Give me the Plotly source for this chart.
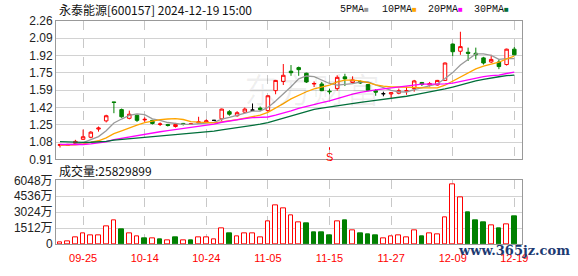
import plotly.graph_objects as go
import pandas as pd
import numpy as np

# ---------------- data ----------------
dates = ["09-20", "09-23", "09-24", "09-25", "09-26", "09-27", "09-30", "10-08", "10-09", "10-10",
         "10-11", "10-14", "10-15", "10-16", "10-17", "10-18", "10-21", "10-22", "10-23", "10-24",
         "10-25", "10-28", "10-29", "10-30", "10-31", "11-01", "11-04", "11-05", "11-06", "11-07",
         "11-08", "11-11", "11-12", "11-13", "11-14", "11-15", "11-18", "11-19", "11-20", "11-21",
         "11-22", "11-25", "11-26", "11-27", "11-28", "11-29", "12-02", "12-03", "12-04", "12-05",
         "12-06", "12-09", "12-10", "12-11", "12-12", "12-13", "12-16", "12-17", "12-18", "12-19"]

opens = [1.045, 1.045, 1.065, 1.105, 1.125, 1.205, 1.285, 1.470, 1.395, 1.310,
         1.340, 1.295, 1.290, 1.250, 1.250, 1.230, 1.260, 1.250, 1.265, 1.275,
         1.290, 1.305, 1.375, 1.335, 1.370, 1.390, 1.410, 1.385, 1.580, 1.670,
         1.770, 1.805, 1.750, 1.645, 1.645, 1.575, 1.600, 1.715, 1.660, 1.670,
         1.640, 1.580, 1.550, 1.548, 1.555, 1.575, 1.600, 1.660, 1.635, 1.635,
         1.680, 2.035, 1.965, 1.955, 1.945, 1.900, 1.860, 1.860, 1.835, 1.985]
highs = [1.060, 1.060, 1.100, 1.200, 1.185, 1.230, 1.345, 1.470, 1.405, 1.385,
         1.345, 1.320, 1.295, 1.270, 1.255, 1.265, 1.265, 1.265, 1.325, 1.300,
         1.295, 1.405, 1.390, 1.380, 1.415, 1.455, 1.425, 1.535, 1.685, 1.840,
         1.830, 1.815, 1.755, 1.670, 1.665, 1.600, 1.730, 1.745, 1.720, 1.680,
         1.645, 1.595, 1.570, 1.565, 1.600, 1.620, 1.685, 1.665, 1.665, 1.685,
         1.855, 2.040, 2.155, 2.000, 2.000, 1.910, 1.930, 1.885, 1.990, 2.005]
lows = [1.025, 1.040, 1.060, 1.100, 1.115, 1.180, 1.270, 1.360, 1.315, 1.300,
        1.275, 1.275, 1.250, 1.235, 1.230, 1.220, 1.240, 1.245, 1.260, 1.270,
        1.285, 1.285, 1.335, 1.325, 1.360, 1.390, 1.380, 1.375, 1.545, 1.635,
        1.725, 1.725, 1.655, 1.615, 1.575, 1.545, 1.580, 1.625, 1.650, 1.645,
        1.575, 1.530, 1.525, 1.510, 1.545, 1.540, 1.570, 1.625, 1.620, 1.630,
        1.675, 1.915, 1.930, 1.870, 1.885, 1.835, 1.850, 1.790, 1.825, 1.925]
closes = [1.055, 1.055, 1.085, 1.130, 1.175, 1.215, 1.335, 1.465, 1.325, 1.350,
          1.290, 1.300, 1.260, 1.255, 1.240, 1.250, 1.250, 1.257, 1.275, 1.285,
          1.290, 1.400, 1.350, 1.365, 1.400, 1.390, 1.395, 1.530, 1.680, 1.730,
          1.755, 1.785, 1.665, 1.650, 1.580, 1.570, 1.710, 1.695, 1.685, 1.655,
          1.585, 1.565, 1.550, 1.560, 1.580, 1.580, 1.675, 1.640, 1.650, 1.680,
          1.850, 1.960, 2.010, 1.945, 1.930, 1.850, 1.885, 1.815, 1.985, 1.930]
# estimated closes of the 29 sessions before the window (needed for the moving averages)
prior_closes = [1.17, 1.16, 1.16, 1.15, 1.14, 1.14, 1.13, 1.12, 1.12, 1.11,
                1.10, 1.09, 1.08, 1.07, 1.06, 1.06, 1.05, 1.05, 1.04, 1.04,
                1.04, 1.04, 1.03, 1.04, 1.05, 1.05, 1.05, 1.05, 1.045]

# volume in 万 shares
volumes = [181, 242, 635, 998, 847, 847, 1724, 2268, 1361, 998,
           756, 544, 575, 454, 393, 635, 393, 363, 635, 635,
           454, 1452, 1028, 726, 998, 998, 635, 2117, 3629, 3357,
           2722, 2087, 1935, 1119, 1119, 847, 2177, 2208, 1270, 1028,
           937, 847, 544, 726, 816, 665, 1270, 756, 998, 937,
           2540, 5685, 4445, 3024, 2208, 2026, 1754, 1482, 1845, 2583]
vol_dir = list("uuuuuuuuduududududuuuuduuuuuuuuuddddududdduuuuuduuuuudddudud")

tick_dates = ["09-25", "10-14", "10-24", "11-05", "11-15", "11-27", "12-09", "12-19"]
price_ticktext = ["0.91", "1.08", "1.25", "1.42", "1.59", "1.75", "1.92", "2.09", "2.26"]
vol_tickvals = [0, 1512, 3024, 4536, 6048]
vol_ticktext = ["0", "1512万", "3024万", "4536万", "6048万"]
ma_periods = [5, 10, 20, 30]
ma_names = ["5PMA", "10PMA", "20PMA", "30PMA"]

# ---------------- styles ----------------
RED = "#ff0000"
GREEN = "#008000"
MA_COLORS = ["#9a9a9a", "#ffa500", "#ff00ff", "#006f3a"]
FRAME = "#999999"
GRID = "#d2d2d2"

n = len(dates)
all_closes = pd.Series(prior_closes + closes)
mas = [all_closes.rolling(p).mean().iloc[-n:].tolist() for p in ma_periods]

fig = go.Figure()

# candles: up (hollow red), down (solid green), doji (black)
def subset(idx):
    return dict(x=[dates[i] for i in idx], open=[opens[i] for i in idx], high=[highs[i] for i in idx],
                low=[lows[i] for i in idx], close=[closes[i] for i in idx])

up_idx = [i for i in range(n) if closes[i] > opens[i]]
dn_idx = [i for i in range(n) if closes[i] < opens[i]]
dj_idx = [i for i in range(n) if closes[i] == opens[i]]

for idx, lc, fc in [(up_idx, RED, "white"), (dn_idx, GREEN, GREEN), (dj_idx, "#000000", "#000000")]:
    fig.add_trace(go.Candlestick(
        **subset(idx), xaxis="x", yaxis="y", showlegend=False, hoverinfo="skip",
        increasing=dict(line=dict(color=lc, width=1), fillcolor=fc),
        decreasing=dict(line=dict(color=lc, width=1), fillcolor=fc),
    ))

for ma, col in zip(mas, MA_COLORS):
    fig.add_trace(go.Scatter(x=dates, y=ma, mode="lines", line=dict(color=col, width=1.3),
                             xaxis="x", yaxis="y", showlegend=False, hoverinfo="skip"))

fig.add_trace(go.Bar(
    x=dates, y=volumes, xaxis="x2", yaxis="y2", width=0.62, showlegend=False, hoverinfo="skip",
    marker=dict(color=["white" if d == "u" else GREEN for d in vol_dir],
                line=dict(color=[RED if d == "u" else GREEN for d in vol_dir], width=1)),
))

L, R, T, B = 56, 56, 21, 22
W, H = 578, 276
ph = H - T - B
pw = W - L - R


def yp(py):
    return (H - B - py) / ph


def xp(px):
    return (px - L) / pw


axis_font = dict(family="Liberation Sans, Noto Sans CJK SC", size=12, color="#222222")

fig.update_layout(
    width=W, height=H, margin=dict(l=L, r=R, t=T, b=B),
    paper_bgcolor="white", plot_bgcolor="white",
    boxgap=0.35, bargap=0,
    xaxis=dict(domain=[0, 1], anchor="y", type="category", categoryorder="array", categoryarray=dates,
               range=[-0.52, n], tickmode="array", tickvals=tick_dates, showticklabels=False,
               showgrid=True, gridcolor="#c8c8c8", griddash="dash", gridwidth=1,
               showline=True, mirror=True, linecolor=FRAME, linewidth=1, zeroline=False,
               rangeslider=dict(visible=False), ticks=""),
    yaxis=dict(domain=[yp(165.5), 1], anchor="x", range=[0.91, 2.26],
               tickmode="array", tickvals=list(np.linspace(0.91, 2.26, 9)), ticktext=price_ticktext,
               showgrid=True, gridcolor=GRID, gridwidth=1, zeroline=False,
               showline=True, mirror=True, linecolor=FRAME, linewidth=1, ticks="",
               tickfont=axis_font),
    xaxis2=dict(domain=[0, 1], anchor="y2", type="category", categoryorder="array", categoryarray=dates,
                range=[-0.52, n], tickmode="array", tickvals=tick_dates, ticktext=tick_dates,
                showgrid=True, gridcolor="#c8c8c8", griddash="dash", gridwidth=1,
                showline=True, mirror=True, linecolor=FRAME, linewidth=1, zeroline=False, ticks="",
                tickfont=dict(family="Liberation Sans", size=11, color=RED), ticklabelstandoff=4),
    yaxis2=dict(domain=[0, yp(187.5)], anchor="x2", range=[0, 6048],
                tickmode="array", tickvals=vol_tickvals, ticktext=vol_ticktext,
                showgrid=True, gridcolor=GRID, gridwidth=1, zeroline=False,
                showline=True, mirror=True, linecolor=FRAME, linewidth=1, ticks="",
                tickfont=axis_font),
)

ann = []
# faint watermark
ann.append(dict(xref="paper", yref="paper", x=xp(312), y=yp(92), text="东方财富", showarrow=False,
                font=dict(family="Noto Sans CJK SC", size=34, color="rgba(0,0,0,0.06)"),
                xanchor="center", yanchor="middle"))
# title
ann.append(dict(xref="paper", yref="paper", x=xp(57), y=yp(8.5), text="永泰能源[600157] 2024-12-19 15:00",
                showarrow=False, xanchor="left", yanchor="middle",
                font=dict(family="Noto Sans CJK SC", size=12, color="#111111")))
# legend
leg_x = [338, 380, 426, 472]
for name, col, lx in zip(ma_names, MA_COLORS, leg_x):
    ann.append(dict(xref="paper", yref="paper", x=xp(lx), y=yp(8.5),
                    text=f"{name}<span style='color:{col};font-size:8px'>■</span>",
                    showarrow=False, xanchor="left", yanchor="middle",
                    font=dict(family="Liberation Mono", size=10, color="#111111")))
# volume caption
ann.append(dict(xref="paper", yref="paper", x=xp(57), y=yp(177.5), text=f"成交量:{volumes[-1] * 10000 + 4899 if False else 25829899}",
                showarrow=False, xanchor="left", yanchor="middle",
                font=dict(family="Noto Sans CJK SC", size=12, color="#111111")))
# sell signal
ann.append(dict(xref="x", yref="y", x="11-15", y=1.027, text="S", showarrow=True, arrowhead=0,
                arrowcolor=RED, arrowwidth=1, ax=0, ay=10,
                font=dict(family="Liberation Sans", size=11, color=RED)))
# site watermark
ann.append(dict(xref="paper", yref="paper", x=xp(514), y=yp(261), text="<b>www.365jz.com</b>",
                showarrow=False, xanchor="center", yanchor="middle",
                font=dict(family="DejaVu Serif", size=13, color="#1d3a72")))
fig.update_layout(annotations=ann)

fig.write_html("out.html")
